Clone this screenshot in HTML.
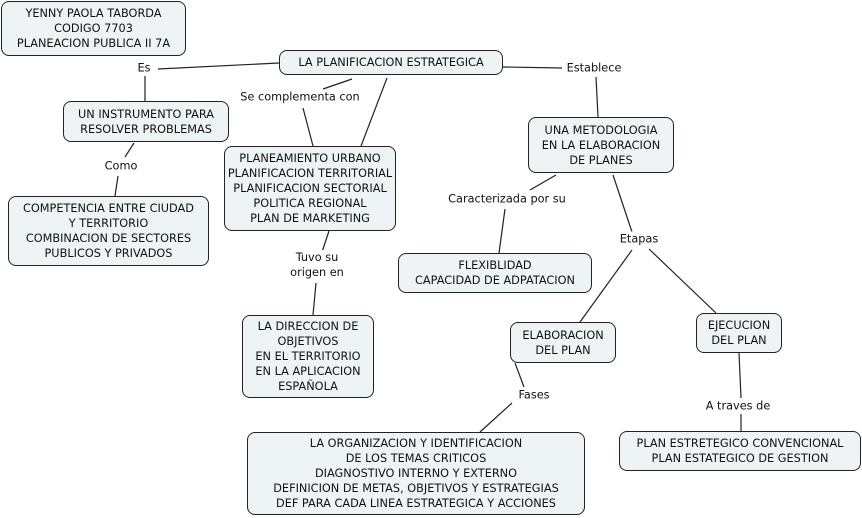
<!DOCTYPE html>
<html><head><meta charset="utf-8"><style>
body{margin:0;width:862px;height:518px;background:#fff;position:relative;overflow:hidden;font-family:"DejaVu Sans","Liberation Sans",sans-serif;font-size:11.3px;color:#111}
.b{position:absolute;box-sizing:border-box;border:1.3px solid #222;border-radius:8px;background:#eef3f6;display:flex;align-items:center;justify-content:center;text-align:center;line-height:15px}
.l{position:absolute;background:#fff;text-align:center;line-height:15px;white-space:nowrap;transform:translate(-50%,-50%)}
svg{position:absolute;left:0;top:0}
</style></head><body>
<svg width="862" height="518"><g stroke="#222" stroke-width="1.2">
<line x1="158" y1="69" x2="279" y2="63"/><line x1="145" y1="76" x2="145" y2="101"/>
<line x1="352" y1="79" x2="323" y2="89"/><line x1="303" y1="108" x2="313" y2="146"/><line x1="387" y1="78" x2="361" y2="146"/>
<line x1="134" y1="143" x2="125" y2="157"/><line x1="118" y1="176" x2="115" y2="196"/>
<line x1="503" y1="67" x2="562" y2="68"/><line x1="596" y1="77" x2="598" y2="117"/>
<line x1="556" y1="175" x2="530" y2="190"/><line x1="505" y1="209" x2="499" y2="253"/>
<line x1="613" y1="175" x2="632" y2="232"/><line x1="632" y1="250" x2="580" y2="322"/><line x1="649" y1="249" x2="716" y2="313"/>
<line x1="329" y1="231" x2="322" y2="252"/><line x1="316" y1="283" x2="313" y2="315"/>
<line x1="515" y1="363" x2="524" y2="387"/><line x1="512" y1="403" x2="480" y2="432"/>
<line x1="739" y1="353" x2="741" y2="398"/><line x1="741" y1="414" x2="741" y2="431"/>
</g></svg>
<div class="b" style="left:1px;top:1px;width:185px;height:55px">YENNY PAOLA TABORDA<br>CODIGO 7703<br>PLANEACION PUBLICA II 7A</div>
<div class="b" style="left:279px;top:50px;width:224px;height:25px">LA PLANIFICACION ESTRATEGICA</div>
<div class="b" style="left:63px;top:101px;width:166px;height:41px">UN INSTRUMENTO PARA<br>RESOLVER PROBLEMAS</div>
<div class="b" style="left:8px;top:196px;width:201px;height:70px">COMPETENCIA ENTRE CIUDAD<br>Y TERRITORIO<br>COMBINACION DE SECTORES<br>PUBLICOS Y PRIVADOS</div>
<div class="b" style="left:224px;top:146px;width:172px;height:85px">PLANEAMIENTO URBANO<br>PLANIFICACION TERRITORIAL<br>PLANIFICACION SECTORIAL<br>POLITICA REGIONAL<br>PLAN DE MARKETING</div>
<div class="b" style="left:528px;top:117px;width:146px;height:56px">UNA METODOLOGIA<br>EN LA ELABORACION<br>DE PLANES</div>
<div class="b" style="left:398px;top:253px;width:194px;height:40px">FLEXIBLIDAD<br>CAPACIDAD DE ADPATACION</div>
<div class="b" style="left:242px;top:315px;width:132px;height:83px">LA DIRECCION DE<br>OBJETIVOS<br>EN EL TERRITORIO<br>EN LA APLICACION<br>ESPAÑOLA</div>
<div class="b" style="left:510px;top:322px;width:106px;height:41px">ELABORACION<br>DEL PLAN</div>
<div class="b" style="left:696px;top:313px;width:86px;height:40px">EJECUCION<br>DEL PLAN</div>
<div class="b" style="left:247px;top:432px;width:338px;height:83px">LA ORGANIZACION Y IDENTIFICACION<br>DE LOS TEMAS CRITICOS<br>DIAGNOSTIVO INTERNO Y EXTERNO<br>DEFINICION DE METAS, OBJETIVOS Y ESTRATEGIAS<br>DEF PARA CADA LINEA ESTRATEGICA Y ACCIONES</div>
<div class="b" style="left:619px;top:431px;width:242px;height:40px">PLAN ESTRETEGICO CONVENCIONAL<br>PLAN ESTATEGICO DE GESTION</div>
<div class="l" style="left:144px;top:68px">Es</div>
<div class="l" style="left:300px;top:97px">Se complementa con</div>
<div class="l" style="left:121px;top:166px">Como</div>
<div class="l" style="left:594px;top:68px">Establece</div>
<div class="l" style="left:507px;top:199px">Caracterizada por su</div>
<div class="l" style="left:639px;top:239px">Etapas</div>
<div class="l" style="left:317px;top:265px">Tuvo su<br>origen en</div>
<div class="l" style="left:534px;top:395px">Fases</div>
<div class="l" style="left:738px;top:406px">A traves de</div>
</body></html>
